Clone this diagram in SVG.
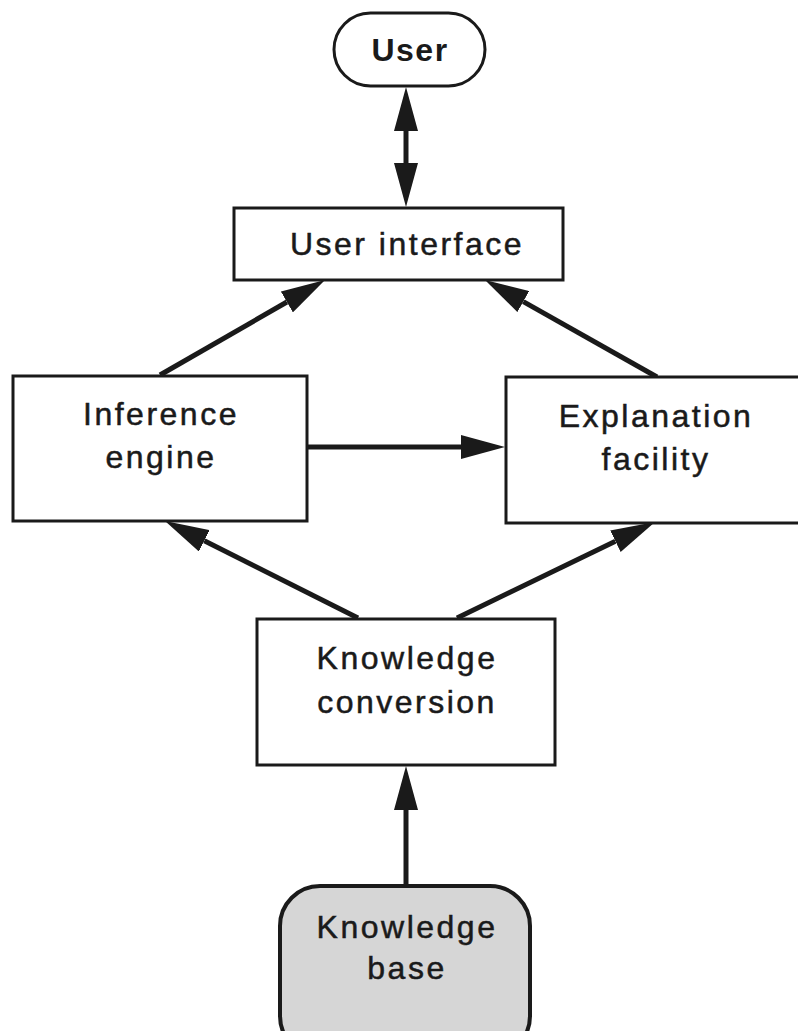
<svg xmlns="http://www.w3.org/2000/svg" width="798" height="1031" viewBox="0 0 798 1031">
  <style>
    .box { fill: #ffffff; stroke: #1a1a1a; stroke-width: 3; }
    .store { fill: #d6d6d6; stroke: #1a1a1a; stroke-width: 4; }
    .label { font-family: "Liberation Sans", Arial, sans-serif; font-size: 32px; fill: #1a1a1a; stroke: #1a1a1a; stroke-width: 0.5; text-anchor: middle; letter-spacing: 2.5px; }
    .bold { font-weight: bold; letter-spacing: 1.5px; stroke-width: 0; }
    .wire { fill: none; stroke: #1a1a1a; stroke-width: 5; stroke-linecap: butt; }
  </style>
  <defs>
    <!-- filled arrowhead, base sits on the line end, tip 44px beyond -->
    <marker id="head" viewBox="0 0 44 24" refX="0" refY="12" markerWidth="44" markerHeight="24" markerUnits="userSpaceOnUse" orient="auto">
      <path d="M0,0 L44,12 L0,24 z" fill="#1a1a1a"/>
    </marker>
    <marker id="headStart" viewBox="0 0 44 24" refX="44" refY="12" markerWidth="44" markerHeight="24" markerUnits="userSpaceOnUse" orient="auto">
      <path d="M44,0 L0,12 L44,24 z" fill="#1a1a1a"/>
    </marker>
  </defs>

  <g id="connectors">
    <!-- User <-> User interface -->
    <line class="wire" x1="406" y1="131" x2="406" y2="163" stroke-width="4" marker-start="url(#headStart)" marker-end="url(#head)"/>
    <!-- Inference engine -> User interface -->
    <line class="wire" x1="160" y1="375" x2="286.9" y2="302" marker-end="url(#head)"/>
    <!-- Explanation facility -> User interface -->
    <line class="wire" x1="657" y1="377" x2="523.3" y2="301.6" marker-end="url(#head)"/>
    <!-- Inference engine -> Explanation facility -->
    <line class="wire" x1="307" y1="447" x2="461" y2="447" marker-end="url(#head)"/>
    <!-- Knowledge conversion -> Inference engine -->
    <line class="wire" x1="358" y1="618" x2="204.3" y2="540.8" marker-end="url(#head)"/>
    <!-- Knowledge conversion -> Explanation facility -->
    <line class="wire" x1="457" y1="618" x2="615.4" y2="541.2" marker-end="url(#head)"/>
    <!-- Knowledge base -> Knowledge conversion -->
    <line class="wire" x1="406" y1="886" x2="406" y2="810" stroke-width="4" marker-end="url(#head)"/>
  </g>

  <g id="user">
    <rect class="box" x="334" y="13" width="151" height="73" rx="36.5" ry="36.5"/>
    <text class="label bold" x="410" y="61">User</text>
  </g>

  <g id="user-interface">
    <rect class="box" x="234" y="208" width="329" height="72"/>
    <text class="label" x="407" y="255">User interface</text>
  </g>

  <g id="inference-engine">
    <rect class="box" x="13" y="376" width="294" height="145"/>
    <text class="label" x="161" y="425">Inference</text>
    <text class="label" x="161" y="468">engine</text>
  </g>

  <g id="explanation-facility">
    <rect class="box" x="506" y="377" width="300" height="146"/>
    <text class="label" x="656" y="427">Explanation</text>
    <text class="label" x="656" y="470">facility</text>
  </g>

  <g id="knowledge-conversion">
    <rect class="box" x="257" y="619" width="298" height="146"/>
    <text class="label" x="407" y="669">Knowledge</text>
    <text class="label" x="407" y="713">conversion</text>
  </g>

  <g id="knowledge-base">
    <rect class="store" x="280" y="886" width="250" height="170" rx="40" ry="40"/>
    <text class="label" x="407" y="938">Knowledge</text>
    <text class="label" x="407" y="979">base</text>
  </g>
</svg>
